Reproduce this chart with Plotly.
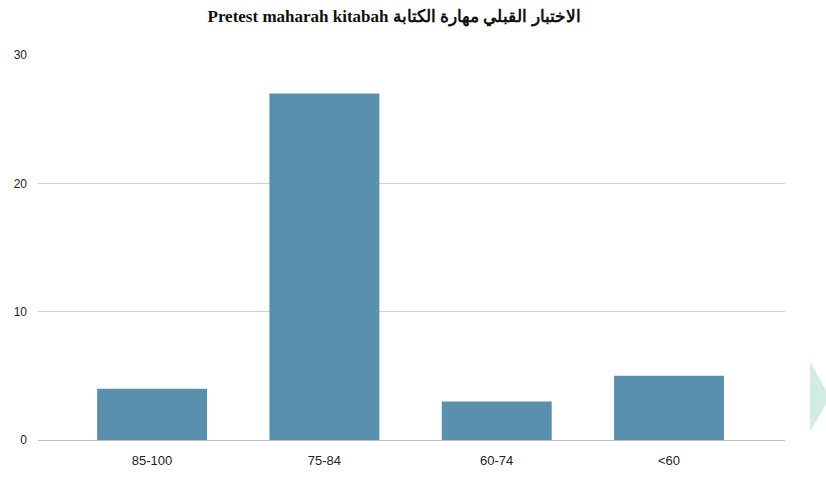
import plotly.graph_objects as go

categories = ["85-100", "75-84", "60-74", "<60"]
values = [4, 27, 3, 5]
y_ticks = [0, 10, 20, 30]
title_text = "Pretest maharah kitabah الاختبار القبلي مهارة الكتابة"

fig = go.Figure(go.Bar(
    x=categories, y=values,
    marker=dict(color="#5a8fad", line=dict(width=0)),
))
fig.update_layout(
    width=826, height=494,
    margin=dict(l=38, r=41, t=55, b=54),
    paper_bgcolor="white", plot_bgcolor="white",
    bargap=0.362,
    font=dict(family="Liberation Sans, Arial", size=13, color="#222"),
    title=dict(text="<b>" + title_text + "</b>", xref="paper", x=0.4766, xanchor="center",
               y=1 - 16/494, yanchor="middle",
               font=dict(family="Liberation Serif, Times New Roman", size=17, color="#111")),
    showlegend=False,
)
fig.update_xaxes(type="category", range=[-0.662, 3.673], showgrid=False,
                 showline=False, ticks="", ticklabelstandoff=11, tickfont=dict(size=13))
fig.update_yaxes(range=[0, 30], tickvals=y_ticks, showgrid=True,
                 gridcolor="#cfcfcf", gridwidth=1, zeroline=True,
                 zerolinecolor="#bdbdbd", zerolinewidth=1,
                 ticks="", ticklabelstandoff=10, tickfont=dict(size=12))
fig.add_shape(type="path", xref="paper", yref="paper",
              path="M 1.0335 0.203 L 1.0335 0.021 L 1.06 0.112 Z",
              fillcolor="#d3ebe0", line=dict(width=0), layer="below")
fig.write_html("out.html", config={"displayModeBar": False},
               post_script="document.body.style.margin='0';document.body.style.overflow='hidden';")
